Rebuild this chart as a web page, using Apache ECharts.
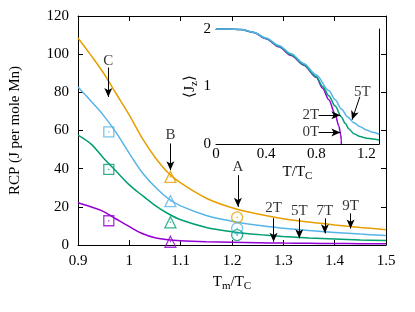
<!DOCTYPE html>
<html><head><meta charset="utf-8">
<script src="https://cdn.jsdelivr.net/npm/echarts@6/dist/echarts.min.js"></script>
<style>html,body{margin:0;padding:0;background:#fff}#c{width:415px;height:312px}</style>
</head><body><div id="c"></div>
<script>
// ---------- main panel data: RCP vs Tm/Tc ----------
const tmOverTc = [0.9,0.925,0.95,0.975,1.0,1.025,1.05,1.075,1.1,1.15,1.2,1.25,1.3,1.35,1.4,1.45,1.5];
const rcp9T = [108.5,99.5,90,79,68,56,46,38,32.5,24.5,19.5,16.2,13.8,12,10.5,9.2,8];
const rcp7T = [82.8,75.5,67.8,58.6,48,38,30.5,24.5,20.5,15.5,12.5,10.3,8.8,7.6,6.6,5.7,5];
const rcp5T = [57.6,53,45.5,38.5,31.5,26,20.8,16.5,13.2,9.2,7,5.5,4.5,3.7,3.1,2.6,2.3];
const rcp2T = [22.1,20,17.5,13.5,9.6,6,3.8,2.7,2.2,1.7,1.4,1.2,1.0,0.9,0.8,0.7,0.6];

// symbols: C (squares), B (triangles), A (circles)
const squareX = 0.96;
const squareVals = {'7T':59.3,'5T':39.6,'2T':12.7};
const triangleX = 1.08;
const triangleVals = {'9T':35.7,'7T':23,'5T':11.9,'2T':1.7};
const circleX = 1.21;
const circleVals = {'9T':14.5,'7T':8.7,'5T':5.2};

// ---------- inset data: <Jz> vs T/Tc ----------
const t0T  = [0,0.1,0.2,0.3,0.4,0.5,0.6,0.7,0.8,0.85,0.9,0.95,0.98,0.995,0.999,1.0];
const jz0T = [2,2,1.99,1.94,1.83,1.69,1.54,1.37,1.16,0.97,0.77,0.52,0.31,0.155,0.07,0];
const t2T  = [0,0.1,0.2,0.3,0.4,0.5,0.6,0.7,0.8,0.85,0.9,0.95,1.0,1.03,1.06,1.1,1.15,1.2,1.3];
const jz2T = [2,2,1.99,1.94,1.835,1.70,1.55,1.38,1.17,1.0,0.84,0.66,0.47,0.36,0.26,0.18,0.13,0.1,0.07];
const t5T  = [0,0.1,0.2,0.3,0.4,0.5,0.6,0.7,0.8,0.9,0.95,1.0,1.05,1.1,1.15,1.2,1.25,1.3];
const jz5T = [2,2,1.99,1.945,1.845,1.715,1.57,1.40,1.20,0.93,0.77,0.61,0.47,0.37,0.30,0.245,0.205,0.17];

// ---------- annotations (text, x, label y, arrow from, arrow to) ----------
const mainNotes = [
  {t:'C', x:0.959, ly:96.4, y0:93, y1:77.6},
  {t:'B', x:1.080, ly:57.6, y0:53.2, y1:39.2},
  {t:'A', x:1.2115, ly:41.0, y0:36.6, y1:20.0},
  {t:'2T', x:1.281, ly:19.2, y0:14, y1:1.7},
  {t:'5T', x:1.331, ly:17.8, y0:14, y1:3.5},
  {t:'7T', x:1.381, ly:17.8, y0:14, y1:6.1},
  {t:'9T', x:1.431, ly:20.5, y0:16.6, y1:8.7}
];
const insetNotes = [
  {t:'2T', lx:0.756, ly:0.50, from:[0.818,0.50], to:[0.992,0.50]},
  {t:'0T', lx:0.756, ly:0.21, from:[0.818,0.20], to:[0.992,0.20]},
  {t:'5T', lx:1.168, ly:0.91, from:[1.147,0.82], to:[1.085,0.42]}
];

const C = {'9T':'#E69F00','7T':'#56B4E9','5T':'#009E73','2T':'#9400D3'};
const FONT = 'Liberation Serif';
const txt = {fontFamily:FONT, fontSize:15, color:'#000'};
const zip = (a,b)=>a.map((v,i)=>[v,b[i]]);

function axis(gi, pos, min, max, interval, labels, extra){
  return Object.assign({
    type:'value', gridIndex:gi, position:pos, min, max, interval,
    axisLine:{show:true, onZero:false, lineStyle:{color:'#000', width:1}},
    axisTick:{show:true, inside:true, length:5, lineStyle:{color:'#000', width:1}},
    splitLine:{show:false},
    axisLabel:Object.assign({show:labels}, txt)
  }, extra||{});
}
const sub = {a:{fontFamily:FONT,fontSize:15,color:'#000'}, s:{fontFamily:FONT,fontSize:11,color:'#000',padding:[8,0,0,0]}};

const series = [];
const mainCurves = [['2T',rcp2T],['5T',rcp5T],['7T',rcp7T],['9T',rcp9T]];
mainCurves.forEach(([k,v])=>{
  series.push({type:'line', xAxisIndex:0, yAxisIndex:0, data:zip(tmOverTc,v), smooth:0.35,
    showSymbol:false, lineStyle:{color:C[k], width:1.5}, z:3});
});
function markers(x, vals, sym, size){
  Object.keys(vals).forEach(k=>{
    series.push({type:'scatter', xAxisIndex:0, yAxisIndex:0, data:[[x,vals[k]]], symbol:sym, symbolSize:size,
      itemStyle:{color:'rgba(255,255,255,0)', borderColor:C[k], borderWidth:1.3}, z:4});
    series.push({type:'scatter', xAxisIndex:0, yAxisIndex:0, data:[[x,vals[k]]], symbol:'circle', symbolSize:1.6,
      itemStyle:{color:C[k]}, z:4});
  });
}
markers(squareX, squareVals, 'rect', 10);
markers(triangleX, triangleVals, 'triangle', 11);
markers(circleX, circleVals, 'circle', 11);

// main annotations
series.push({type:'scatter', xAxisIndex:0, yAxisIndex:0, symbolSize:0,
  data:mainNotes.map(n=>({value:[n.x,n.ly], name:n.t})),
  label:Object.assign({show:true, position:'inside', formatter:p=>p.name}, txt),
  markLine:{silent:true, symbol:['none','arrow'], symbolSize:[6,9], label:{show:false},
    lineStyle:{color:'#000', width:1, type:'solid'}, animation:false,
    data:mainNotes.map(n=>[{coord:[n.x,n.y0]},{coord:[n.x,n.y1]}])}, z:5});

// inset curves
[['0T',t0T,jz0T,'2T'],['2T',t2T,jz2T,'5T'],['5T',t5T,jz5T,'7T']].forEach(([k,t,j,col])=>{
  series.push({type:'line', xAxisIndex:2, yAxisIndex:2, data:zip(t,j), smooth:0.3, smoothMonotone:'x',
    showSymbol:false, lineStyle:{color:C[col], width:1.5}, z:3});
});
series.push({type:'scatter', xAxisIndex:2, yAxisIndex:2, symbolSize:0,
  data:insetNotes.map(n=>({value:[n.lx,n.ly], name:n.t})),
  label:Object.assign({show:true, position:'inside', formatter:p=>p.name}, txt),
  markLine:{silent:true, symbol:['none','arrow'], symbolSize:[6,9], label:{show:false},
    lineStyle:{color:'#000', width:1, type:'solid'}, animation:false,
    data:insetNotes.map(n=>[{coord:n.from},{coord:n.to}])}, z:5});

const option = {
  animation:false,
  backgroundColor:'#fff',
  grid:[
    {left:77, top:16, width:309, height:229},
    {left:216, top:29, width:163, height:115, show:true, backgroundColor:'#fff', borderWidth:0, z:1}
  ],
  xAxis:[
    axis(0,'bottom',0.9,1.5,0.1,true,{axisLabel:Object.assign({show:true, margin:9}, txt),
      name:'{a|T}{s|m}{a|/T}{s|C}', nameLocation:'middle', nameGap:28, nameTextStyle:{rich:sub}}),
    axis(0,'top',0.9,1.5,0.1,false),
    axis(1,'bottom',0,1.3,0.4,true,{axisLabel:Object.assign({show:true, margin:3, showMaxLabel:false}, txt),
      name:'{a|T/T}{s|C}', nameLocation:'middle', nameGap:19, nameTextStyle:{rich:sub}}),
    axis(1,'top',0,1.3,0.4,false)
  ],
  yAxis:[
    axis(0,'left',0,120,20,true,{axisLabel:Object.assign({show:true, margin:9}, txt),
      name:'RCP (J per mole Mn)', nameLocation:'middle', nameGap:55, nameTextStyle:txt}),
    axis(0,'right',0,120,20,false),
    axis(1,'left',0,2,1,true,{axisLabel:Object.assign({show:true, margin:5}, txt),
      name:'{a|⟨J}{s|z}{a|⟩}', nameLocation:'middle', nameGap:16, nameTextStyle:{rich:sub}}),
    axis(1,'right',0,2,1,false)
  ],
  series
};
echarts.init(document.getElementById('c')).setOption(option);
</script></body></html>
